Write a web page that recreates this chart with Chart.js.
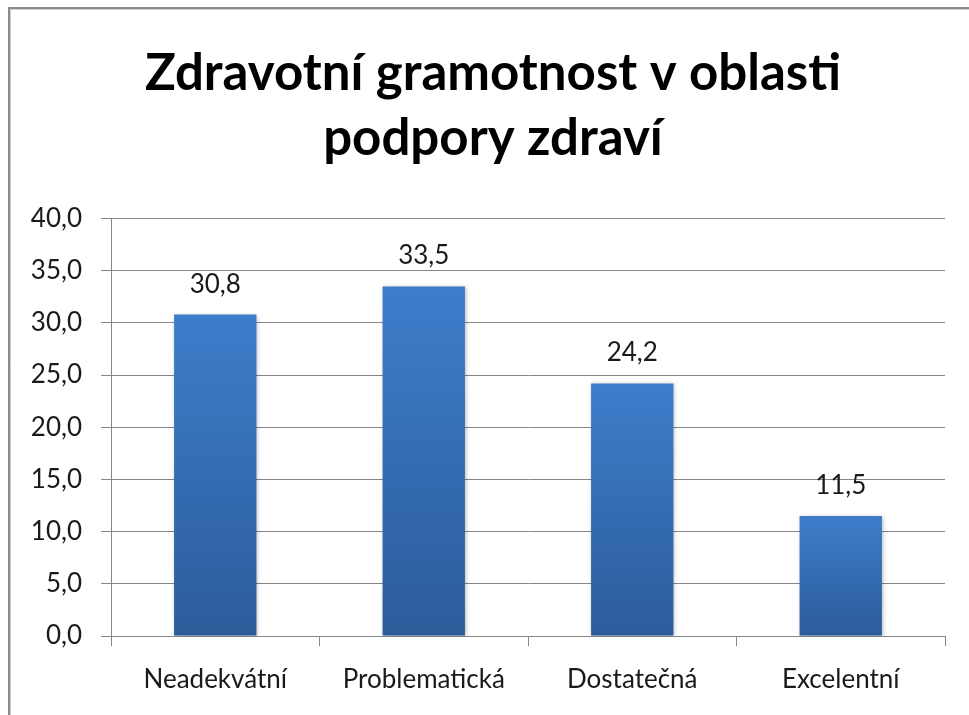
<!DOCTYPE html>
<html>
<head>
<meta charset="utf-8">
<script src="https://cdn.jsdelivr.net/npm/chart.js@4/dist/chart.umd.min.js"></script>
<style>
html,body{margin:0;padding:0;background:#fff;}
canvas{display:block;}
</style>
</head>
<body>
<canvas id="c" width="969" height="715"></canvas>
<script>
const categories = ['Neadekvátní', 'Problematická', 'Dostatečná', 'Excelentní'];
const values = [30.8, 33.5, 24.2, 11.5];
const titleLines = ['Zdravotní gramotnost v oblasti', 'podpory zdraví'];
const yMin = 0, yMax = 40, yStep = 5;

const fmt = v => Number(v).toFixed(1).replace('.', ',');

const frame = {
  id: 'frame',
  beforeDraw(chart) {
    const ctx = chart.ctx;
    ctx.save();
    ctx.fillStyle = '#ffffff';
    ctx.fillRect(0, 0, chart.width, chart.height);
    ctx.strokeStyle = '#8a8a8a';
    ctx.lineWidth = 2;
    ctx.beginPath();
    ctx.moveTo(9, chart.height + 5);
    ctx.lineTo(9, 8);
    ctx.lineTo(chart.width + 5, 8);
    ctx.stroke();
    ctx.strokeStyle = '#cfcfcf';
    ctx.lineWidth = 1;
    ctx.beginPath();
    ctx.moveTo(10.5, chart.height + 5);
    ctx.lineTo(10.5, 9.5);
    ctx.lineTo(chart.width + 5, 9.5);
    ctx.stroke();
    ctx.restore();
  }
};

// shift the title box so it is centred like the original (between x=41 and the plot's right edge)
const titleShift = {
  id: 'titleShift',
  afterLayout(chart) {
    if (chart.titleBlock) {
      chart.titleBlock.left = 41;
      chart.titleBlock.right = chart.chartArea.right;
    }
  }
};

const shadow = {
  id: 'barShadow',
  beforeDatasetsDraw(chart) {
    const ctx = chart.ctx;
    ctx.save();
    ctx.shadowColor = 'rgba(0,0,0,0.28)';
    ctx.shadowBlur = 4;
    ctx.shadowOffsetX = 1;
    ctx.shadowOffsetY = 1;
  },
  afterDatasetsDraw(chart) {
    chart.ctx.restore();
  }
};

const valueLabels = {
  id: 'valueLabels',
  afterDatasetsDraw(chart) {
    const ctx = chart.ctx;
    const meta = chart.getDatasetMeta(0);
    ctx.save();
    ctx.font = '26px Lato';
    ctx.fillStyle = '#1a1a1a';
    ctx.textAlign = 'center';
    ctx.textBaseline = 'alphabetic';
    meta.data.forEach((bar, i) => {
      ctx.fillText(fmt(chart.data.datasets[0].data[i]), bar.x, bar.y - 22);
    });
    ctx.restore();
  }
};

function barGradient(context) {
  const chart = context.chart;
  const y = chart.scales.y;
  if (!y || !chart.chartArea || context.raw === undefined) return '#3a78c3';
  const top = y.getPixelForValue(context.raw);
  const bottom = y.getPixelForValue(0);
  if (!isFinite(top) || !isFinite(bottom) || top === bottom) return '#3a78c3';
  const g = chart.ctx.createLinearGradient(0, top, 0, bottom);
  g.addColorStop(0, '#3d7dcb');
  g.addColorStop(1, '#2c5c9a');
  return g;
}

new Chart(document.getElementById('c'), {
  type: 'bar',
  data: {
    labels: categories,
    datasets: [{
      data: values,
      backgroundColor: barGradient,
      borderWidth: 0,
      categoryPercentage: 1,
      barPercentage: 0.395
    }]
  },
  plugins: [frame, titleShift, shadow, valueLabels],
  options: {
    responsive: false,
    animation: false,
    layout: { padding: { top: 10, left: 0, right: 24, bottom: 0 } },
    plugins: {
      legend: { display: false },
      tooltip: { enabled: false },
      title: {
        display: true,
        text: titleLines,
        color: '#000000',
        font: { family: 'Lato', size: 51, weight: 'bold', lineHeight: 1.27 },
        padding: { top: 31, bottom: 48 }
      }
    },
    scales: {
      x: {
        afterFit(scale) { scale.height = 79; },
        grid: {
          offset: true,
          drawOnChartArea: false,
          drawTicks: true,
          tickLength: 10,
          color: '#868686',
          lineWidth: 1
        },
        border: { display: true, color: '#868686', width: 1 },
        ticks: {
          color: '#1a1a1a',
          font: { family: 'Lato', size: 26 },
          padding: 18,
          maxRotation: 0,
          autoSkip: false
        }
      },
      y: {
        min: yMin,
        max: yMax,
        afterFit(scale) { scale.width = 111; },
        grid: {
          color: '#868686',
          lineWidth: 1,
          drawTicks: true,
          tickLength: 10
        },
        border: { display: true, color: '#868686', width: 1 },
        ticks: {
          stepSize: yStep,
          color: '#1a1a1a',
          font: { family: 'Lato', size: 26 },
          padding: 19,
          callback: v => fmt(v)
        }
      }
    }
  }
});
</script>
</body>
</html>
